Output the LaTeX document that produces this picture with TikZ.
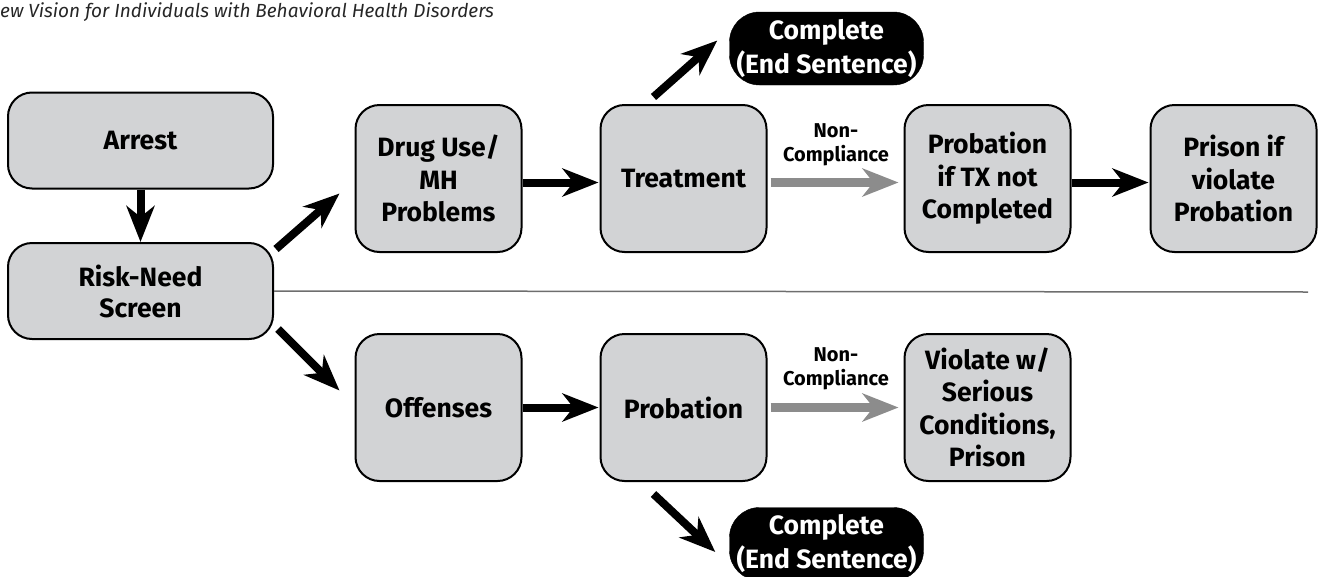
\documentclass[tikz,border=0pt]{standalone}
\usepackage{fontspec}
\setmainfont{Fira Sans}
\usetikzlibrary{arrows.meta}
\definecolor{boxgray}{RGB}{210,211,213}
\definecolor{arrgray}{RGB}{140,140,140}
\definecolor{rulegray}{RGB}{110,110,110}
\begin{document}
\begin{tikzpicture}[x=1pt,y=-1pt,
  box/.style={draw=black, line width=2pt, fill=boxgray, rounded corners=24pt,
    minimum width=166pt, minimum height=147pt, align=center, inner sep=0pt,
    font=\fontsize{26.5}{32.5}\selectfont\bfseries},
  widebox/.style={box, minimum width=265pt, minimum height=96pt,
    font=\fontsize{26.5}{31}\selectfont\bfseries},
  endbox/.style={fill=black, draw=black, rounded corners=30pt, minimum width=194pt,
    minimum height=73pt, align=center, inner sep=0pt, text=white,
    font=\fontsize{26.5}{34}\selectfont\bfseries},
  blk/.style={line width=8pt, black, -{Stealth[length=36pt,width=28pt,inset=11pt]}},
  gry/.style={line width=9pt, arrgray, -{Stealth[length=36pt,width=28pt,inset=11pt]}},
  lbl/.style={align=center, inner sep=0pt, font=\fontsize{20}{24}\selectfont\bfseries},
]
\useasboundingbox (0,0) rectangle (1318,576);
\clip (0,0) rectangle (1318,576);

\node[anchor=base west, inner sep=0pt, font=\fontsize{19}{24}\selectfont\itshape, text=black!85] (caption) at (0,17) {ew Vision for Individuals with Behavioral Health Disorders};

\node[widebox] (arrest) at (140.5,140.5) {Arrest};
\node[widebox] (risk) at (140.5,291) {Risk-Need\\Screen};

\node[box] (drug) at (438.5,178.5) {Drug Use/\\MH\\Problems};
\node[box] (treat) at (683.5,178.5) {Treatment};
\node[box] (probtx) at (987.5,178.5) {Probation\\if TX not\\Completed};
\node[box] (prison) at (1233.5,178.5) {Prison if\\violate\\Probation};

\node[box] (off) at (438.5,407.5) {Offenses};
\node[box] (prob) at (683.5,407.5) {Probation};
\node[box] (viol) at (987.5,407.5) {Violate w/\\Serious\\Conditions,\\Prison};

\node[endbox] (comp1) at (826.5,48.5) {Complete\\(End Sentence)};
\node[endbox] (comp2) at (826.5,544) {Complete\\(End Sentence)};

\node[lbl] (ncl1) at (836,145) {Non-\\Compliance};
\node[lbl] (ncl2) at (836,369) {Non-\\Compliance};

\coordinate (lineend) at (1308,292);
\draw[rulegray, line width=1.5pt] (risk.east) -- (lineend);

\draw[blk] (arrest.south) -- (risk.north);
\draw[blk] ([shift={(2,-42)}]risk.east) -- ([shift={(-15,15)}]drug.west);
\draw[blk] ([shift={(4,38)}]risk.east) -- ([shift={(-15,-17)}]off.west);
\draw[blk] ([shift={(0,4)}]drug.east) -- ([shift={(-1,4)}]treat.west);
\draw[gry] ([shift={(3,4)}]treat.east) -- ([shift={(-5,4)}]probtx.west);
\draw[blk] ([shift={(0,4)}]probtx.east) -- ([shift={(-1,4)}]prison.west);
\draw[blk] (off.east) -- ([shift={(-1,0)}]prob.west);
\draw[gry] ([shift={(3,0)}]prob.east) -- ([shift={(-5,0)}]viol.west);
\draw[blk] ([shift={(-30,-7)}]treat.north) -- ([shift={(-12,-8)}]comp1.west);
\draw[blk] ([shift={(-30,12)}]prob.south) -- ([shift={(-14,8)}]comp2.west);
\end{tikzpicture}
\end{document}
